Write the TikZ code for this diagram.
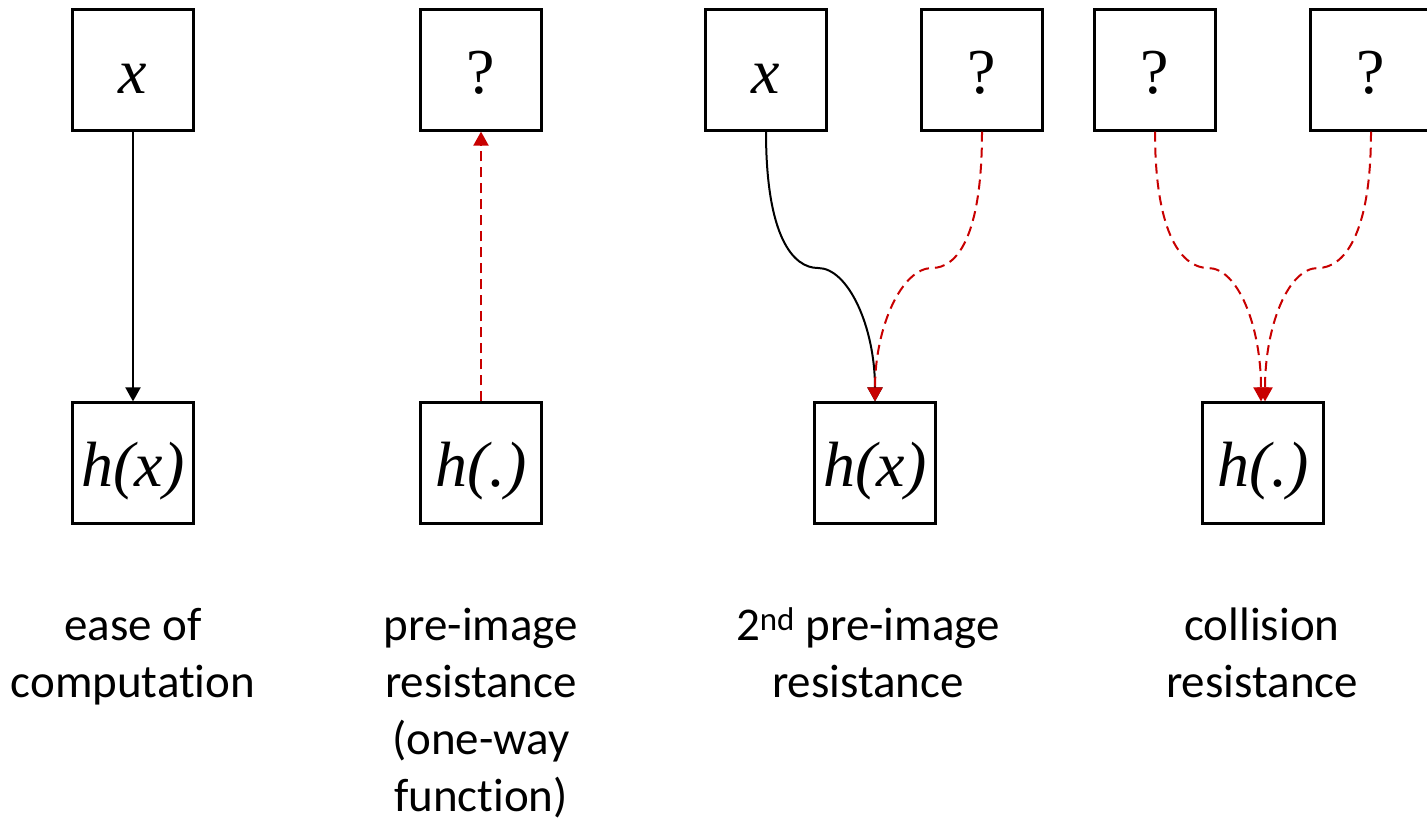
\documentclass[tikz,border=0pt]{standalone}
\usepackage{fontspec}
\setmainfont{Liberation Serif}
\newfontfamily\labelfont[Ligatures=NoCommon]{Carlito}
\usetikzlibrary{arrows.meta}
\definecolor{darkred}{RGB}{200,0,0}
\begin{document}
\begin{tikzpicture}[x=1pt,y=-1pt,
  box/.style={draw=black,line width=2.2pt,minimum width=121pt,minimum height=121pt,inner sep=0pt,
    text height=47pt,text depth=0pt,font=\fontsize{64}{70}\selectfont},
  conn/.style={line width=2pt,-{Triangle[width=15pt,length=14pt]}},
  redconn/.style={conn,draw=darkred,dash pattern=on 10pt off 6pt},
  lab/.style={align=center,anchor=base,inner sep=0pt,font=\labelfont\fontsize{47}{57}\selectfont}]
\useasboundingbox (0,0) rectangle (1427,819);
\clip (0,0) rectangle (1427,819);

% ease of computation
\node[box] (x1)  at (133,70)  {\textit{x}};
\node[box] (hx1) at (133,463) {\textit{h(x)}};
\draw[conn] (x1.south) -- (hx1.north);
\node[lab] (l1) at (133,697) {ease of\\computation};

% pre-image resistance
\node[box] (q2)  at (481,70)  {?};
\node[box] (hp2) at (481,463) {\textit{h(.)}};
\draw[redconn] (hp2.north) -- (q2.south);
\node[lab] (l2) at (481,811) {pre-image\\resistance\\(one-way\\function)};

% second pre-image resistance
\node[box] (x3)  at (766,70)  {\textit{x}};
\node[box] (q3)  at (982,70)  {?};
\node[box] (hx3) at (875,463) {\textit{h(x)}};
\coordinate (b3l) at (818,268);
\coordinate (b3r) at (932,268);
\draw[conn] (x3.south) .. controls +(0,105) and +(-25,0) .. (b3l)
  .. controls +(30,0) and +(0,-75) .. (hx3.north);
\draw[redconn] (q3.south) .. controls +(0,105) and +(25,0) .. (b3r)
  .. controls +(-30,0) and +(0,-75) .. (hx3.north);
\node[lab] (l3) at (868,697) {2\textsuperscript{nd} pre-image\\resistance};

% collision resistance
\node[box] (q4a) at (1155,70)  {?};
\node[box] (q4b) at (1371,70)  {?};
\node[box] (hp4) at (1263,463) {\textit{h(.)}};
\coordinate (b4l) at (1208,268);
\coordinate (b4r) at (1318,268);
\draw[redconn] (q4a.south) .. controls +(0,105) and +(-25,0) .. (b4l)
  .. controls +(30,0) and +(0,-75) .. ([xshift=-2pt]hp4.north);
\draw[redconn] (q4b.south) .. controls +(0,105) and +(25,0) .. (b4r)
  .. controls +(-30,0) and +(0,-75) .. ([xshift=2pt]hp4.north);
\node[lab] (l4) at (1262,697) {collision\\resistance};
\end{tikzpicture}
\end{document}
